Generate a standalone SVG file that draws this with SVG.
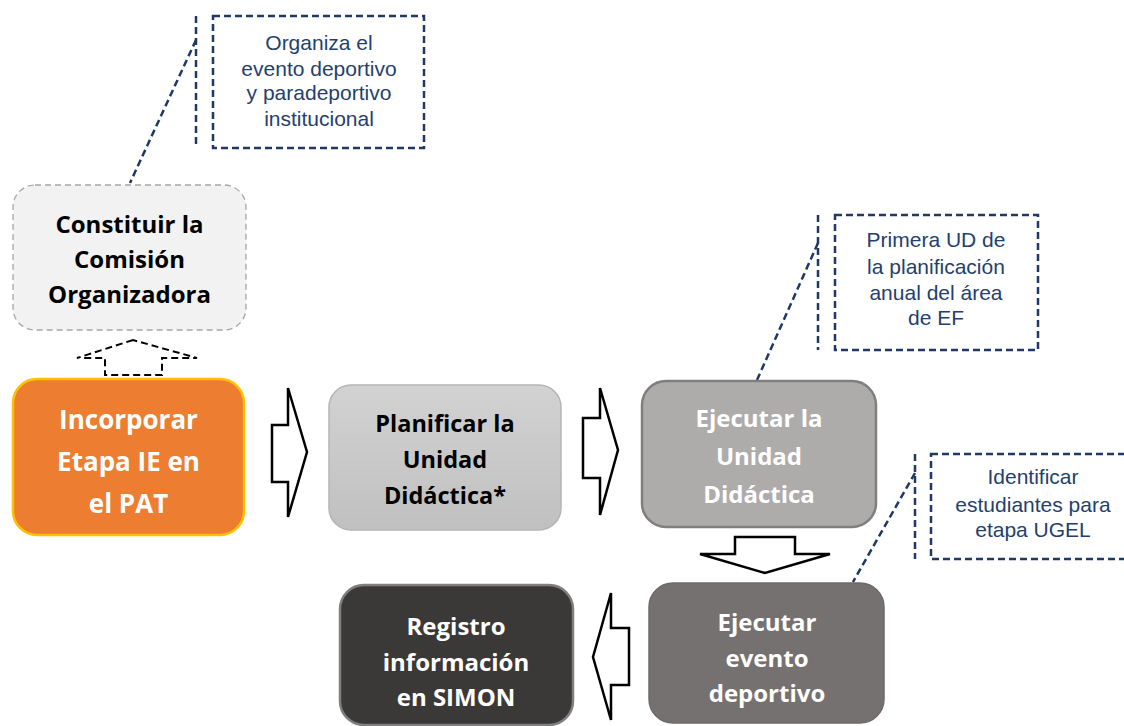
<svg xmlns="http://www.w3.org/2000/svg" width="1124" height="726" viewBox="0 0 1124 726">
<defs>
<linearGradient id="gPlan" x1="0" y1="0" x2="0" y2="1">
<stop offset="0" stop-color="#D2D2D2"/>
<stop offset="1" stop-color="#C0C0C0"/>
</linearGradient>
</defs>
<style>
.bt{font-family:"Open Sans",Lato,"Liberation Sans",sans-serif;font-weight:bold;text-anchor:middle}
.ct{font-family:"Liberation Sans",Arial,sans-serif;font-size:21px;fill:#243F6E;text-anchor:middle}
.call{fill:none;stroke:#1F3864;stroke-width:2.5;stroke-dasharray:7 4}
.blk{fill:#FFFFFF;stroke:#000000;stroke-width:2.5;stroke-linejoin:miter}
</style>
<rect width="1124" height="726" fill="#FFFFFF"/>

<g id="connectors">
<polygon points="133,340 77,358 105,358 105,375 162,375 162,358 197,358" fill="#FFFFFF" stroke="#000000" stroke-width="2" stroke-dasharray="7 4"/>
<polygon class="blk" points="272,425 288,425 288,388 307,452 288,517 288,482 272,482"/>
<polygon class="blk" points="583,418 600,418 600,388 618,450 600,515 600,478 583,478"/>
<polygon class="blk" points="735,537 795,537 795,554 830,554 765,573 700,554 735,554"/>
<polygon class="blk" points="629,628 611,628 611,593 593,657 611,720 611,685 629,685"/>
<line class="call" x1="196" y1="16" x2="196" y2="148"/>
<line class="call" x1="196" y1="40" x2="130" y2="183"/>
<line class="call" x1="818" y1="215" x2="818" y2="350"/>
<line class="call" x1="818" y1="243" x2="757" y2="380"/>
<line class="call" x1="915" y1="454" x2="915" y2="559"/>
<line class="call" x1="915" y1="473" x2="853" y2="582"/>
</g>

<g id="callout-organiza">
<rect class="call" x="213" y="16" width="211" height="132"/>
<text class="ct" x="319" y="50">Organiza el</text>
<text class="ct" x="319" y="76">evento deportivo</text>
<text class="ct" x="319" y="100">y paradeportivo</text>
<text class="ct" x="319" y="126">institucional</text>
</g>

<g id="callout-primera">
<rect class="call" x="835" y="215" width="203" height="135"/>
<text class="ct" x="936" y="247">Primera UD de</text>
<text class="ct" x="936" y="274">la planificación</text>
<text class="ct" x="936" y="300">anual del área</text>
<text class="ct" x="936" y="325">de EF</text>
</g>

<g id="callout-identificar">
<rect class="call" x="931" y="454" width="210" height="105"/>
<text class="ct" x="1033" y="484">Identificar</text>
<text class="ct" x="1033" y="512">estudiantes para</text>
<text class="ct" x="1033" y="537">etapa UGEL</text>
</g>

<g id="node-constituir">
<rect x="13" y="185" width="233" height="145" rx="22" fill="#F2F2F2" stroke="#A6A6A6" stroke-width="1.3" stroke-dasharray="6 4"/>
<text class="bt" x="129.5" y="233" font-size="24" fill="#000000">Constituir la</text>
<text class="bt" x="129.5" y="268" font-size="24" fill="#000000">Comisión</text>
<text class="bt" x="129.5" y="303" font-size="24" fill="#000000">Organizadora</text>
</g>

<g id="node-incorporar">
<rect x="13" y="379" width="231" height="156" rx="24" fill="#ED7D31" stroke="#FFC000" stroke-width="2.5"/>
<text class="bt" x="128.5" y="429" font-size="26" fill="#FFFFFF">Incorporar</text>
<text class="bt" x="128.5" y="471" font-size="26" fill="#FFFFFF">Etapa IE en</text>
<text class="bt" x="128.5" y="513" font-size="26" fill="#FFFFFF">el PAT</text>
</g>

<g id="node-planificar">
<rect x="329" y="385" width="232" height="145" rx="22" fill="url(#gPlan)" stroke="#B5B5B5" stroke-width="1.5"/>
<text class="bt" x="445" y="432" font-size="23.5" fill="#000000">Planificar la</text>
<text class="bt" x="445" y="468" font-size="23.5" fill="#000000">Unidad</text>
<text class="bt" x="445" y="504" font-size="23.5" fill="#000000">Didáctica*</text>
</g>

<g id="node-ejecutar-ud">
<rect x="642" y="381" width="234" height="146" rx="24" fill="#AEABAB" stroke="#7F7F7F" stroke-width="2.5"/>
<text class="bt" x="759" y="427" font-size="24" fill="#FFFFFF">Ejecutar la</text>
<text class="bt" x="759" y="465" font-size="24" fill="#FFFFFF">Unidad</text>
<text class="bt" x="759" y="503" font-size="24" fill="#FFFFFF">Didáctica</text>
</g>

<g id="node-ejecutar-evento">
<rect x="649" y="583" width="235" height="140" rx="24" fill="#767171" stroke="#6E6A6A" stroke-width="1.5"/>
<text class="bt" x="767" y="631" font-size="24" fill="#FFFFFF">Ejecutar</text>
<text class="bt" x="767" y="667" font-size="24" fill="#FFFFFF">evento</text>
<text class="bt" x="767" y="702" font-size="24" fill="#FFFFFF">deportivo</text>
</g>

<g id="node-registro">
<rect x="340" y="585" width="233" height="140" rx="24" fill="#3B3838" stroke="#7F7F7F" stroke-width="2.5"/>
<text class="bt" x="456" y="635" font-size="24" fill="#FFFFFF">Registro</text>
<text class="bt" x="456" y="671" font-size="24" fill="#FFFFFF">información</text>
<text class="bt" x="456" y="706" font-size="24" fill="#FFFFFF">en SIMON</text>
</g>
</svg>
